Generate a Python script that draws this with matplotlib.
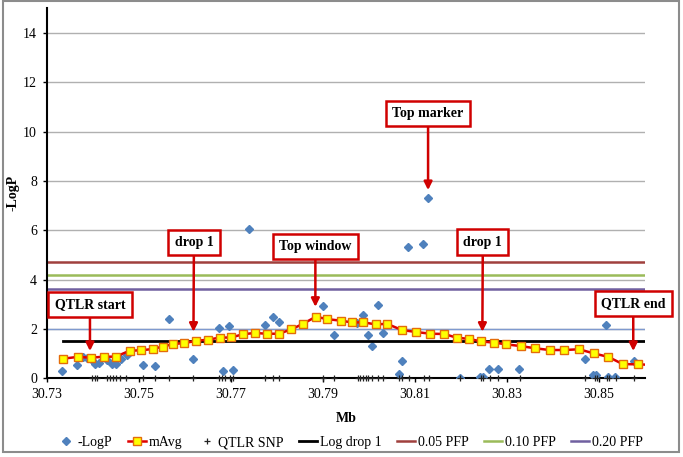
import matplotlib
matplotlib.use('Agg')
from matplotlib import rcParams
from matplotlib import pyplot as plt
from matplotlib.patches import Rectangle
from matplotlib.ticker import MultipleLocator

# -LogP of each SNP (Mb, -LogP)
snp_x = [30.7333, 30.7365, 30.7378, 30.7387, 30.7399, 30.7406, 30.7414, 30.7432,
         30.7441, 30.7450, 30.7461, 30.7474, 30.7510, 30.7536, 30.7566, 30.7617,
         30.7674, 30.7684, 30.7696, 30.7706, 30.7740, 30.7774, 30.7791, 30.7806,
         30.7900, 30.7925, 30.7975, 30.7987, 30.7998, 30.8007, 30.8020, 30.8030,
         30.8065, 30.8072, 30.8086, 30.8119, 30.8129, 30.8199, 30.8242, 30.8248,
         30.8262, 30.8280, 30.8327, 30.8470, 30.8488, 30.8495, 30.8516, 30.8521,
         30.8536, 30.8576]
snp_logp = [0.29, 0.54, 0.85, 0.81, 0.74, 0.58, 0.63, 0.74,
            0.58, 0.57, 0.80, 0.93, 0.55, 0.51, 2.42, 0.80,
            2.05, 0.28, 2.12, 0.32, 6.07, 2.17, 2.49, 2.28,
            2.93, 1.77, 2.24, 2.58, 1.74, 1.33, 2.96, 1.83,
            0.16, 0.72, 5.31, 5.45, 7.31, 0.03, 0.06, 0.06,
            0.40, 0.40, 0.37, 0.80, 0.14, 0.14, 2.18, 0.06,
            0.06, 0.70]

# moving average
mavg_x = [30.7336, 30.7367, 30.7396, 30.7425, 30.7450, 30.7480, 30.7506, 30.7530,
          30.7552, 30.7575, 30.7598, 30.7625, 30.7650, 30.7676, 30.7701, 30.7727,
          30.7752, 30.7779, 30.7805, 30.7832, 30.7858, 30.7885, 30.7910, 30.7939,
          30.7963, 30.7988, 30.8015, 30.8040, 30.8072, 30.8103, 30.8134, 30.8164,
          30.8191, 30.8218, 30.8244, 30.8272, 30.8299, 30.8330, 30.8362, 30.8393,
          30.8425, 30.8457, 30.8490, 30.8521, 30.8552, 30.8585, 30.8625]
mavg_y = [0.80, 0.87, 0.84, 0.88, 0.88, 1.12, 1.14, 1.19,
          1.29, 1.39, 1.43, 1.52, 1.57, 1.65, 1.66, 1.79,
          1.84, 1.81, 1.81, 1.99, 2.22, 2.50, 2.40, 2.34,
          2.27, 2.27, 2.19, 2.21, 1.96, 1.88, 1.81, 1.80,
          1.65, 1.60, 1.50, 1.45, 1.38, 1.31, 1.22, 1.15,
          1.15, 1.18, 1.01, 0.87, 0.58, 0.57, 0.54]

# SNPs inside the QTLR, drawn on the x axis
qtlr_x = [30.7398, 30.7404, 30.7409, 30.7432, 30.7438, 30.7444, 30.7451, 30.7460,
          30.7473, 30.7510, 30.7536, 30.7566, 30.7617, 30.7674, 30.7682, 30.7687,
          30.7698, 30.7706, 30.7774, 30.7791, 30.7806, 30.7900, 30.7925, 30.7976,
          30.7982, 30.7987, 30.7993, 30.7998, 30.8007, 30.8020, 30.8030, 30.8065,
          30.8073, 30.8087, 30.8120, 30.8131, 30.8199, 30.8243, 30.8249, 30.8263,
          30.8281, 30.8328, 30.8470, 30.8491, 30.8496, 30.8517, 30.8522, 30.8537,
          30.8576]
qtlr_y = [0] * len(qtlr_x)

logdrop_x = [30.7336, 30.86]
logdrop_y = [1.5, 1.5]
pfp_05 = 4.72
pfp_10 = 4.19
pfp_20 = 3.61
blue_line = 2.0

x_ticks = [30.73, 30.75, 30.77, 30.79, 30.81, 30.83, 30.85]
x_tick_labels = ['30.73', '30.75', '30.77', '30.79', '30.81', '30.83', '30.85']

# call-out boxes: label, arrow tip (x, y), text centre (x, y)
notes = [('Top marker', (30.8129, 7.63), (30.8129, 10.74)),
         ('drop 1', (30.7619, 1.89), (30.7620, 5.51)),
         ('Top window', (30.7884, 2.90), (30.7884, 5.35)),
         ('drop 1', (30.8247, 1.89), (30.8248, 5.52)),
         ('QTLR start', (30.7394, 1.11), (30.7394, 3.00)),
         ('QTLR end', (30.8575, 1.11), (30.8575, 3.03))]

rcParams['font.family'] = 'Liberation Serif'
rcParams['font.size'] = 10

fig = plt.figure(figsize=(6.83, 4.57), dpi=100)
ax = fig.add_axes([0.0684, 0.172, 0.8756, 0.810])

ax.set_xlim(30.73, 30.86)
ax.set_ylim(0, 15)
ax.set_xticks(x_ticks)
ax.set_xticklabels(x_tick_labels)
ax.yaxis.set_major_locator(MultipleLocator(2))
ax.grid(axis='y', color='#b0b0b0', linewidth=1.0, zorder=0)
ax.set_axisbelow(True)
for side in ['top', 'right']:
    ax.spines[side].set_visible(False)
ax.spines['left'].set_linewidth(1.5)
ax.spines['bottom'].set_linewidth(1.5)
ax.tick_params(which='major', direction='out', length=3, width=1, pad=4)

ax.axhline(blue_line, color='#7f9acf', linewidth=1.0, zorder=1)

h_snp, = ax.plot(snp_x, snp_logp, 'D', color='#4f81bd', markersize=4.3,
                 linestyle='none', label='-LogP', zorder=3)
h_qtlr, = ax.plot(qtlr_x, qtlr_y, '+', color='#222222', markersize=5,
                  markeredgewidth=0.9, linestyle='none', label='QTLR SNP',
                  zorder=4, clip_on=False)
h_drop, = ax.plot(logdrop_x, logdrop_y, color='black', linewidth=2.0,
                  label='Log drop 1', zorder=4)
h_05 = ax.axhline(pfp_05, color='#a0403d', linewidth=1.8, label='0.05 PFP', zorder=2)
h_10 = ax.axhline(pfp_10, color='#9bbb59', linewidth=1.8, label='0.10 PFP', zorder=2)
h_20 = ax.axhline(pfp_20, color='#7060a0', linewidth=1.8, label='0.20 PFP', zorder=2)
h_mavg, = ax.plot(mavg_x, mavg_y, '-s', color='#e00000', linewidth=1.8,
                  markersize=6.2, markerfacecolor='#ffff00',
                  markeredgecolor='#e46c0a', markeredgewidth=1.0,
                  label='mAvg', zorder=5)

for label, tip, txt in notes:
    ax.annotate(label, xy=tip, xytext=txt, ha='center', va='center',
                fontsize=10, fontweight='bold', annotation_clip=False,
                bbox=dict(boxstyle='square,pad=0.45', fc='white',
                          ec='#d00000', lw=1.8),
                arrowprops=dict(arrowstyle='-|>', color='#d00000', lw=1.8,
                                mutation_scale=12, shrinkA=0, shrinkB=0),
                zorder=6)

ax.set_ylabel('-LogP', fontweight='bold')
ax.yaxis.set_label_coords(-0.045, 0.5)
ax.set_xlabel('Mb', fontweight='bold', labelpad=8)

fig.legend(handles=[h_snp, h_mavg, h_qtlr, h_drop, h_05, h_10, h_20],
           loc='center', bbox_to_anchor=(0.512, 0.031), ncol=7,
           frameon=False, handlelength=1.3, handletextpad=0.2,
           columnspacing=1.1, fontsize=10)

fig.add_artist(Rectangle((0.004, 0.011), 0.99, 0.986, transform=fig.transFigure,
                         fill=False, edgecolor='#8c8c8c', linewidth=1.5))

plt.savefig('out.png', dpi=100)
